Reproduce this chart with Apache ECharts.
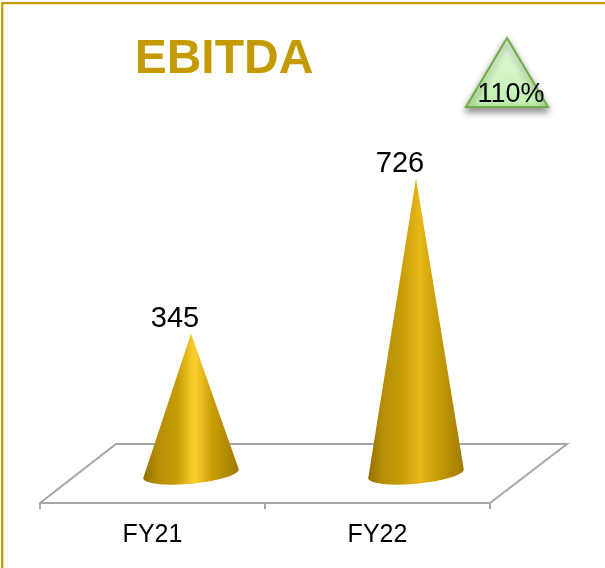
<!DOCTYPE html>
<html>
<head>
<meta charset="utf-8">
<title>EBITDA</title>
<style>
    html, body { margin: 0; padding: 0; background: #ffffff; }
    #chart { width: 605px; height: 568px; }
</style>
<script src="https://cdn.jsdelivr.net/npm/echarts@6/dist/echarts.min.js"></script>
</head>
<body>
<div id="chart"></div>
<script>
const categories = ['FY21', 'FY22'];
const ebitda = [345, 726];
const growthLabel = '110%';
const chartTitle = 'EBITDA';

const gold = '#c49a00';
const floorColor = '#a6a6a6';
const font = 'Liberation Sans';
// 3D floor depth, the cones stand in the middle of it
const depthX = 38.5;

const chart = echarts.init(document.getElementById('chart'));

// cone: apex from value, base is a slightly tilted ellipse
function renderCone(params, api) {
    const cat = api.value(0);
    const value = api.value(1);
    const apex = api.coord([cat, value]);
    const base = api.coord([cat, 0]);
    const cx = apex[0] + depthX;
    const cy = base[1];
    const rx = 48, ry = 10;
    const tilt = -5.4 * Math.PI / 180;
    const points = [[cx, apex[1]]];
    for (let i = 0; i <= 40; i++) {
        const t = Math.PI * i / 40;
        const ex = rx * Math.cos(t), ey = ry * Math.sin(t);
        points.push([
            cx + ex * Math.cos(tilt) - ey * Math.sin(tilt),
            cy + ex * Math.sin(tilt) + ey * Math.cos(tilt)
        ]);
    }
    const bright = cat === 0 ? '#fdd02c' : '#e8b718';
    return {
        type: 'group',
        children: [{
            type: 'polygon',
            shape: { points: points },
            style: {
                fill: new echarts.graphic.LinearGradient(0, 0, 1, 0, [
                    { offset: 0, color: '#946f00' },
                    { offset: 0.14, color: '#b48d05' },
                    { offset: 0.36, color: '#c89e08' },
                    { offset: 0.54, color: bright },
                    { offset: 0.72, color: '#c89e08' },
                    { offset: 1, color: '#a07a00' }
                ])
            }
        }, {
            type: 'text',
            x: cx - 16,
            y: apex[1] - 14.5,
            style: {
                text: String(value),
                fontFamily: font,
                fontSize: 29,
                fill: '#000000',
                align: 'center',
                verticalAlign: 'middle'
            }
        }]
    };
}

const option = {
    animation: false,
    backgroundColor: '#ffffff',
    title: {
        text: chartTitle,
        left: 219,
        top: 31,
        textAlign: 'center',
        textStyle: {
            fontFamily: font,
            fontSize: 48,
            fontWeight: 'bold',
            color: gold
        }
    },
    // y axis starts below zero so the x axis sits on the front edge of the floor
    grid: { left: 40, width: 450, top: 148.3, height: 354.7 },
    xAxis: {
        type: 'category',
        data: categories,
        axisLine: { onZero: false, lineStyle: { color: floorColor, width: 2 } },
        axisTick: { show: true, length: 6, alignWithLabel: false, lineStyle: { color: floorColor, width: 2 } },
        axisLabel: {
            margin: 20,
            fontFamily: font,
            fontSize: 25,
            color: '#000000'
        }
    },
    yAxis: { type: 'value', min: -72, max: 800, show: false },
    series: [{
        type: 'custom',
        coordinateSystem: 'cartesian2d',
        data: ebitda.map((v, i) => [i, v]),
        encode: { x: 0, y: 1 },
        z: 5,
        renderItem: renderCone
    }],
    graphic: [
        // chart frame, only top and left show in the picture
        {
            type: 'polyline', z: 0,
            shape: { points: [[2.2, 568], [2.2, 3.2], [605, 3.2]] },
            style: { fill: 'none', stroke: gold, lineWidth: 2.3 }
        },
        // floor
        {
            type: 'polyline', z: 1,
            shape: { points: [[40, 503], [116, 444], [567, 444], [490, 503]] },
            style: { fill: 'none', stroke: floorColor, lineWidth: 2 }
        },
        // growth triangle
        {
            type: 'polygon', z: 2,
            shape: { points: [[507, 38], [466, 107], [548, 107]] },
            style: {
                fill: new echarts.graphic.LinearGradient(0, 0, 0, 1, [
                    { offset: 0, color: '#eafce2' },
                    { offset: 1, color: '#bdeeaa' }
                ]),
                stroke: '#70ad47',
                lineWidth: 2,
                shadowColor: 'rgba(0,0,0,0.45)',
                shadowBlur: 7,
                shadowOffsetY: 4
            }
        },
        {
            type: 'text', z: 3,
            x: 511, y: 95,
            style: {
                text: growthLabel,
                fontFamily: font,
                fontSize: 27,
                fill: '#000000',
                align: 'center',
                verticalAlign: 'middle'
            }
        }
    ]
};
chart.setOption(option);

window.addEventListener('resize', function() {
    chart.resize();
});
</script>
</body>
</html>
